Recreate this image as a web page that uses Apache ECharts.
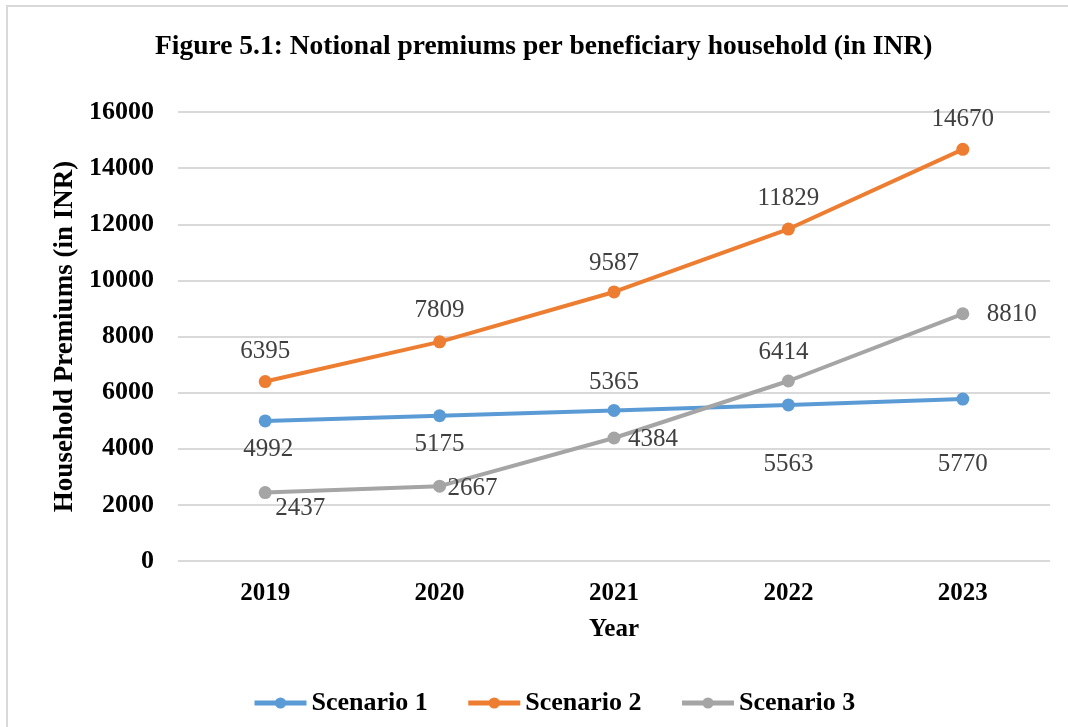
<!DOCTYPE html>
<html>
<head>
<meta charset="utf-8">
<script src="https://cdn.jsdelivr.net/npm/echarts@6/dist/echarts.min.js"></script>
<style>
  html, body { margin: 0; padding: 0; background: #fff; }
  #chart { width: 1068px; height: 727px; }
</style>
</head>
<body>
<div id="chart"></div>
<script>
const years = ['2019', '2020', '2021', '2022', '2023'];
const scenario1 = [4992, 5175, 5365, 5563, 5770];
const scenario2 = [6395, 7809, 9587, 11829, 14670];
const scenario3 = [2437, 2667, 4384, 6414, 8810];

// label offsets from each point (label center minus point), in px
const offsets1 = [[3, 29], [0, 29], [0, -28], [0, 60], [0, 65]];
const offsets2 = [[0, -30], [0, -31], [0, -29], [0, -31], [0, -30]];
const offsets3 = [[35, 16], [33, 2], [39, 1], [-5, -29], [49, 1]];

const font = '"Liberation Serif", "Times New Roman", serif';

function withLabels(values, offs) {
  return values.map(function (v, i) {
    return { value: v, label: { offset: offs[i] } };
  });
}

function makeSeries(name, color, values, offs) {
  return {
    name: name,
    type: 'line',
    data: withLabels(values, offs),
    symbol: 'circle',
    symbolSize: 13,
    lineStyle: { width: 4, color: color },
    itemStyle: { color: color },
    label: {
      show: true,
      position: 'inside',
      color: '#404040',
      fontFamily: font,
      fontSize: 25
    }
  };
}

const chart = echarts.init(document.getElementById('chart'));

const option = {
  animation: false,
  backgroundColor: '#fff',
  color: ['#5B9BD5', '#ED7D31', '#A5A5A5'],
  graphic: [{
    type: 'rect',
    shape: { x: 7, y: 6, width: 1070, height: 740 },
    style: { fill: 'none', stroke: '#d9d9d9', lineWidth: 2 },
    silent: true
  }],
  title: {
    text: 'Figure 5.1: Notional premiums per beneficiary household (in INR)',
    left: 150,
    top: 28,
    textStyle: { fontFamily: font, fontSize: 27.5, fontWeight: 'bold', color: '#000' }
  },
  legend: {
    bottom: 6,
    left: 247,
    itemWidth: 52,
    itemHeight: 14,
    itemGap: 38,
    lineStyle: { width: 5 },
    textStyle: { fontFamily: font, fontSize: 26, fontWeight: 'bold', color: '#000' },
    data: ['Scenario 1', 'Scenario 2', 'Scenario 3']
  },
  grid: { left: 178, right: 18, top: 112, bottom: 166 },
  xAxis: {
    type: 'category',
    data: years,
    name: 'Year',
    nameLocation: 'middle',
    nameGap: 56,
    nameTextStyle: { fontFamily: font, fontSize: 25, fontWeight: 'bold', color: '#000' },
    axisLine: { show: false },
    axisTick: { show: false },
    axisLabel: { fontFamily: font, fontSize: 25, fontWeight: 'bold', color: '#000', margin: 20 }
  },
  yAxis: {
    type: 'value',
    min: 0,
    max: 16000,
    interval: 2000,
    name: 'Household Premiums (in INR)',
    nameLocation: 'middle',
    nameGap: 95,
    nameTextStyle: { fontFamily: font, fontSize: 27, fontWeight: 'bold', color: '#000' },
    axisLine: { show: false },
    axisTick: { show: false },
    axisLabel: {
      fontFamily: font, fontSize: 26, fontWeight: 'bold', color: '#000', margin: 24,
      formatter: function (v) { return String(v); }
    },
    splitLine: { lineStyle: { color: '#d9d9d9', width: 2 } }
  },
  series: [
    makeSeries('Scenario 1', '#5B9BD5', scenario1, offsets1),
    makeSeries('Scenario 2', '#ED7D31', scenario2, offsets2),
    makeSeries('Scenario 3', '#A5A5A5', scenario3, offsets3)
  ]
};

chart.setOption(option);
</script>
</body>
</html>
